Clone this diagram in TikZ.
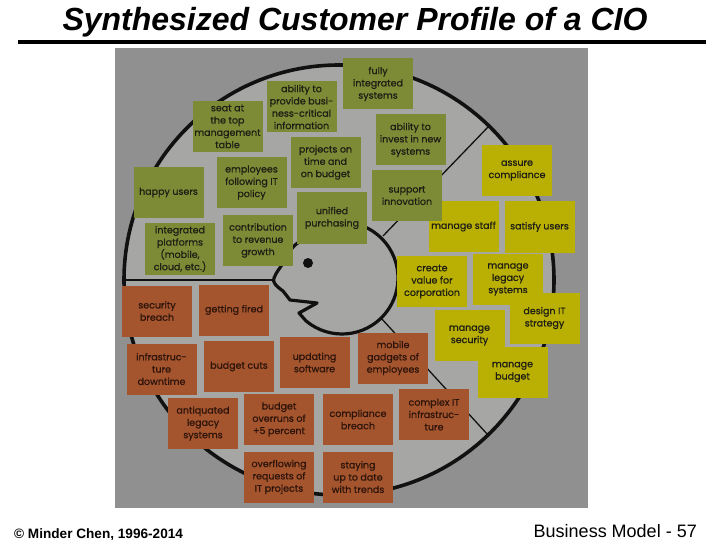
\documentclass[tikz,border=0pt]{standalone}
\usepackage{fontspec}
\setmainfont{Liberation Sans}
\newfontfamily\notefont{Poppins}[FakeBold=0.8]
\definecolor{panelc}{HTML}{8F908F}
\definecolor{innerc}{HTML}{A6A7A5}
\definecolor{gainc}{HTML}{7D8A36}
\definecolor{jobc}{HTML}{BAB004}
\definecolor{painc}{HTML}{A4552E}
\definecolor{inkc}{HTML}{1E1E14}
\definecolor{painink}{HTML}{2E140A}
\definecolor{linec}{HTML}{111111}
\tikzset{
  note/.style={minimum width=70, minimum height=51, inner sep=0pt, align=center,
    font=\notefont\fontsize{9.5}{12.3}\selectfont},
  gain/.style={note, fill=gainc, text=inkc},
  job/.style={note, fill=jobc, text=inkc},
  pain/.style={note, fill=painc, text=painink},
  rim/.style={draw=linec, line width=3.6},
  sep/.style={draw=linec, line width=1.3},
  headline/.style={draw=linec, line width=3.2, line join=round, line cap=round}
}
\begin{document}
\begin{tikzpicture}[x=1pt, y=-1pt]
\useasboundingbox (0,0) rectangle (720,540);
\fill[white] (0,0) rectangle (720,540);
% title
\node[anchor=base, font=\bfseries\itshape\fontsize{32}{36}\selectfont, inner sep=0] (title) at (355,31) {Synthesized Customer Profile of a CIO};
\coordinate (rl) at (18,42);
\coordinate (rr) at (706,42);
\draw[line width=4, black] (rl) -- (rr);
% panel
\fill[panelc] (115,48) rectangle (588,508);
\coordinate (cc) at (339,280);
\fill[innerc] (cc) circle[radius=215];
\draw[rim] (cc) circle[radius=215];
% head
\coordinate (hc) at (342,278);
\fill[innerc] (hc) circle[radius=56];
% separators
\coordinate (s1a) at (124,280);
\coordinate (s1b) at (276,280);
\coordinate (s2a) at (383,236);
\coordinate (s2b) at (489,126);
\coordinate (s3a) at (381,318);
\coordinate (s3b) at (488,435);
\draw[sep] (s1a) -- (s1b);
\draw[sep] (s2a) -- (s2b);
\draw[sep] (s3a) -- (s3b);
\draw[headline, fill=innerc] (hc) ++(-140:56) coordinate (fh)
  arc[start angle=-140, end angle=130, radius=56]
  -- (299,313) -- (317,303) -- (290,300) -- (283,291)
  .. controls (276,286) and (272,282) .. (274,278)
  .. controls (276,272) and (282,266) .. (286,258)
  .. controls (290,250) and (294,245) .. (fh);
\node[circle, fill=linec, minimum size=10, inner sep=0] (eye) at (308,263) {};
% jobs
\node[job] (j1) at (517,170.5) {assure\\compliance};
\node[job] (j2) at (463.5,226.5) {manage staff};
\node[job] (j3) at (539.5,227) {satisfy users};
\node[job] (j4) at (432,281.5) {create\\value for\\corporation};
\node[job] (j5) at (508,279.5) {manage\\legacy\\systems};
\node[job] (j6) at (544.5,318) {design IT\\strategy};
\node[job] (j7) at (469.5,335.5) {manage\\security};
\node[job] (j8) at (512.5,372) {manage\\budget};
% gains
\node[gain] (g1) at (378,84) {fully\\integrated\\systems};
\node[gain] (g2) at (301.5,107) {ability to\\provide busi-\\ness-critical\\information};
\node[gain] (g3) at (227.5,126.5) {seat at\\the top\\management\\table};
\node[gain] (g4) at (410.5,140) {ability to\\invest in new\\systems};
\node[gain] (g5) at (325.5,162.5) {projects on\\time and\\on budget};
\node[gain] (g6) at (251.5,182.5) {employees\\following IT\\policy};
\node[gain] (g7) at (168.5,192.5) {happy users};
\node[gain] (g8) at (407,195.5) {support\\innovation};
\node[gain] (g9) at (332,218) {unified\\purchasing};
\node[gain] (g10) at (258,240.5) {contribution\\to revenue\\growth};
\node[gain] (g11) at (180,249) {integrated\\platforms\\(mobile,\\cloud, etc.)};
% pains
\node[pain] (p1) at (157,311) {security\\breach};
\node[pain] (p2) at (234,310) {getting fired};
\node[pain] (p3) at (161.5,369) {infrastruc-\\ture\\downtime};
\node[pain] (p4) at (239,366.5) {budget cuts};
\node[pain] (p5) at (314.5,362.5) {updating\\software};
\node[pain] (p6) at (393,358) {mobile\\gadgets of\\employees};
\node[pain] (p7) at (203,423.5) {antiquated\\legacy\\systems};
\node[pain] (p8) at (279,419.5) {budget\\overruns of\\+5 percent};
\node[pain] (p9) at (358,419.5) {compliance\\breach};
\node[pain] (p10) at (434,414.5) {complex IT\\infrastruc-\\ture};
\node[pain] (p11) at (279,477) {overflowing\\requests of\\IT projects};
\node[pain] (p12) at (358,477) {staying\\up to date\\with trends};
% footer
\node[anchor=base west, font=\bfseries\fontsize{13.6}{15}\selectfont, inner sep=0] (foot1) at (14,538) {© Minder Chen, 1996-2014};
\node[anchor=base east, font=\fontsize{18}{20}\selectfont, inner sep=0] (foot2) at (697,537) {Business Model - 57};
\end{tikzpicture}
\end{document}
